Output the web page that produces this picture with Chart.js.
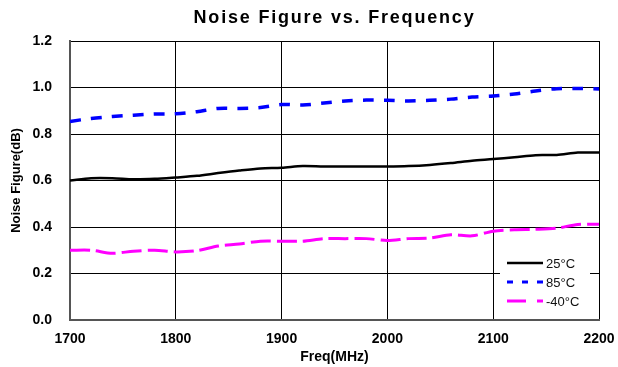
<!DOCTYPE html>
<html>
<head>
<meta charset="utf-8">
<script src="https://cdn.jsdelivr.net/npm/chart.js@4/dist/chart.umd.min.js"></script>
<style>
  html, body { margin: 0; padding: 0; background: #fff; }
  #wrap { width: 618px; height: 367px; position: relative; }
</style>
</head>
<body>
<div id="wrap"><canvas id="nfChart"></canvas></div>
<script>
// Data
const freq = [1700, 1720, 1740, 1760, 1780, 1800, 1820, 1840, 1860, 1880, 1900, 1920, 1940,
              1960, 1980, 2000, 2020, 2040, 2060, 2080, 2100, 2120, 2140, 2160, 2180, 2200];
const nf25 = [0.600, 0.610, 0.610, 0.605, 0.607, 0.613, 0.620, 0.632, 0.643, 0.652, 0.655, 0.662, 0.660,
              0.660, 0.660, 0.660, 0.662, 0.667, 0.675, 0.685, 0.692, 0.700, 0.709, 0.710, 0.720, 0.720];
const nf85 = [0.854, 0.867, 0.875, 0.881, 0.886, 0.887, 0.896, 0.910, 0.910, 0.914, 0.927, 0.925, 0.933,
              0.942, 0.946, 0.945, 0.942, 0.945, 0.950, 0.959, 0.963, 0.972, 0.985, 0.995, 0.996, 0.994];
const nfm40 = [0.300, 0.300, 0.287, 0.296, 0.300, 0.293, 0.298, 0.318, 0.327, 0.339, 0.339, 0.339, 0.350,
               0.350, 0.350, 0.342, 0.350, 0.352, 0.367, 0.362, 0.382, 0.388, 0.390, 0.395, 0.411, 0.412];
const seriesLabels = ['25°C', '85°C', '-40°C'];
const xTicks = [1700, 1800, 1900, 2000, 2100, 2200];
const yTicks = [0.0, 0.2, 0.4, 0.6, 0.8, 1.0, 1.2];
const chartTitle = 'Noise Figure vs. Frequency';

const FONT = 'Arial, "Liberation Sans", sans-serif';
const toPoints = ys => freq.map((f, i) => ({ x: f, y: ys[i] }));

// Title is drawn by hand so the wide letter spacing of the original can be kept
const wideTitle = {
  id: 'wideTitle',
  afterDraw(chart) {
    const ctx = chart.ctx;
    const a = chart.chartArea;
    ctx.save();
    ctx.font = 'bold 18px ' + FONT;
    ctx.letterSpacing = '1.8px';
    ctx.fillStyle = '#000';
    ctx.textAlign = 'center';
    ctx.textBaseline = 'middle';
    ctx.fillText(chartTitle, (a.left + a.right) / 2, 18);
    ctx.restore();
  }
};

// Legend drawn inside the plot, bottom right, like the original
const innerLegend = {
  id: 'innerLegend',
  afterDatasetsDraw(chart) {
    const ctx = chart.ctx;
    const a = chart.chartArea;
    const boxL = a.right - 99, boxR = a.right - 9;
    const boxT = a.bottom - 68, boxB = a.bottom - 2;
    ctx.save();
    ctx.fillStyle = '#fff';
    ctx.fillRect(boxL, boxT, boxR - boxL, boxB - boxT);
    chart.data.datasets.forEach((ds, i) => {
      const y = boxT + 11 + i * 19;
      ctx.beginPath();
      ctx.strokeStyle = ds.borderColor;
      ctx.lineWidth = ds.legendWidth;
      ctx.setLineDash(ds.legendDash || []);
      ctx.moveTo(boxL + 7, y);
      ctx.lineTo(boxL + 43, y);
      ctx.stroke();
      ctx.setLineDash([]);
      ctx.fillStyle = '#111';
      ctx.font = '13px ' + FONT;
      ctx.textBaseline = 'middle';
      ctx.fillText(ds.label, boxL + 46, y + 1);
    });
    ctx.restore();
  }
};

new Chart(document.getElementById('nfChart'), {
  type: 'line',
  data: {
    datasets: [
      { label: seriesLabels[0], data: toPoints(nf25), borderColor: '#000', borderWidth: 2.5,
        legendDash: [], legendWidth: 2.5 },
      { label: seriesLabels[1], data: toPoints(nf85), borderColor: '#0000ff', borderWidth: 3.5,
        borderDash: [11, 10], legendDash: [6, 9], legendWidth: 3 },
      { label: seriesLabels[2], data: toPoints(nfm40), borderColor: '#ff00ff', borderWidth: 3,
        borderDash: [20, 6], legendDash: [19, 11], legendWidth: 3 }
    ]
  },
  options: {
    responsive: true,
    maintainAspectRatio: false,
    animation: false,
    layout: { padding: { left: 0, right: 19, top: 41, bottom: 0 } },
    elements: {
      point: { radius: 0, hoverRadius: 0 },
      line: { tension: 0.3, fill: false, borderCapStyle: 'butt' }
    },
    plugins: {
      legend: { display: false },
      tooltip: { enabled: false },
      title: { display: false }
    },
    scales: {
      x: {
        type: 'linear',
        min: 1700,
        max: 2200,
        afterBuildTicks: axis => { axis.ticks = xTicks.map(v => ({ value: v })); },
        afterFit: axis => {
          axis.height = 47;
          axis.paddingLeft = 0;
          axis.paddingRight = 0;
        },
        ticks: {
          color: '#000',
          padding: 11,
          maxRotation: 0,
          callback: v => String(v),
          font: { family: FONT, size: 14, weight: 'bold' }
        },
        grid: { color: '#000', lineWidth: 1, drawTicks: false },
        border: { color: '#555', width: 2 },
        title: {
          display: true,
          text: 'Freq(MHz)',
          color: '#000',
          font: { family: FONT, size: 14, weight: 'bold' },
          padding: { top: 0, bottom: 1 }
        }
      },
      y: {
        min: 0,
        max: 1.2,
        afterBuildTicks: axis => { axis.ticks = yTicks.map(v => ({ value: v })); },
        afterFit: axis => {
          axis.width = 70;
          axis.paddingTop = 0;
          axis.paddingBottom = 0;
        },
        ticks: {
          color: '#000',
          padding: 18,
          callback: v => Number(v).toFixed(1),
          font: { family: FONT, size: 14, weight: 'bold' }
        },
        grid: { color: '#000', lineWidth: 1, drawTicks: false },
        border: { color: '#555', width: 2 },
        title: {
          display: true,
          text: 'Noise Figure(dB)',
          color: '#000',
          font: { family: FONT, size: 13, weight: 'bold' },
          padding: { top: 8.5, bottom: 0 }
        }
      }
    }
  },
  plugins: [innerLegend, wideTitle]
});
</script>
</body>
</html>
